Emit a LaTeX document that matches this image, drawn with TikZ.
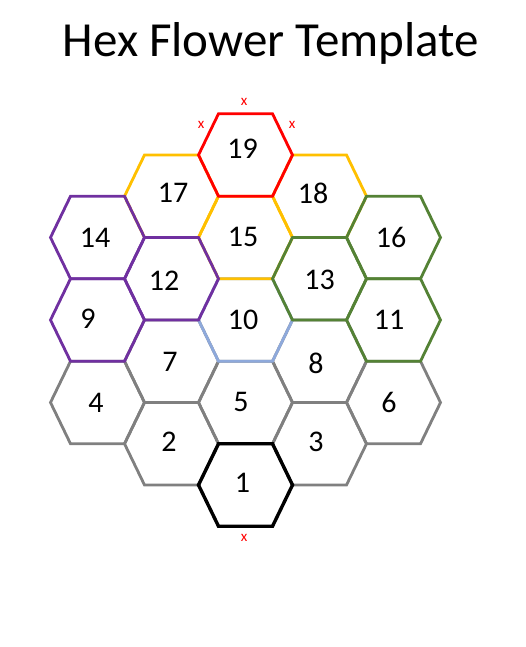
\documentclass[tikz,border=0pt]{standalone}
\usepackage{fontspec}
\setmainfont{Carlito}
\definecolor{hgrey}{HTML}{808080}
\definecolor{hblue}{HTML}{8EA9DB}
\definecolor{hyellow}{HTML}{FFC000}
\definecolor{hpurple}{HTML}{7030A0}
\definecolor{hgreen}{HTML}{548235}
\definecolor{hred}{HTML}{FF0000}
\newcommand\hexcell[3]{\draw[#3] ({#1-47},#2) -- ({#1-27},{#2-41.25}) -- ({#1+27},{#2-41.25}) -- ({#1+47},#2) -- ({#1+27},{#2+41.25}) -- ({#1-27},{#2+41.25}) -- cycle;}
\tikzset{
  hexline/.style={line width=2.8pt},
  greyhex/.style={hexline, draw=hgrey},
  bluehex/.style={hexline, draw=hblue},
  yellowhex/.style={hexline, draw=hyellow},
  purplehex/.style={hexline, draw=hpurple},
  greenhex/.style={hexline, draw=hgreen},
  redhex/.style={hexline, draw=hred},
  blackhex/.style={line width=3.4pt, draw=black},
  num/.style={inner sep=0pt, font=\fontsize{30}{32}\selectfont},
  xmark/.style={inner sep=0pt, text=hred, font=\fontsize{15}{16}\selectfont},
  title/.style={inner sep=0pt, anchor=base, font=\fontsize{49}{52}\selectfont}
}
\begin{document}
\begin{tikzpicture}[x=1pt,y=-1pt]
\useasboundingbox (0,0) rectangle (525,647);
\fill[white] (0,0) rectangle (525,647);
\node[title] (title) at (271,57) {Hex Flower Template};
% grey
\hexcell{171.5}{361.25}{greyhex}
\hexcell{319.5}{361.25}{greyhex}
\hexcell{97.5}{402.5}{greyhex}
\hexcell{245.5}{402.5}{greyhex}
\hexcell{393.5}{402.5}{greyhex}
\hexcell{171.5}{443.75}{greyhex}
\hexcell{319.5}{443.75}{greyhex}
% blue
\hexcell{245.5}{320}{bluehex}
% yellow
\hexcell{171.5}{196.25}{yellowhex}
\hexcell{319.5}{196.25}{yellowhex}
\hexcell{245.5}{237.5}{yellowhex}
% purple
\hexcell{97.5}{237.5}{purplehex}
\hexcell{171.5}{278.75}{purplehex}
\hexcell{97.5}{320}{purplehex}
% green
\hexcell{393.5}{237.5}{greenhex}
\hexcell{319.5}{278.75}{greenhex}
\hexcell{393.5}{320}{greenhex}
% red
\hexcell{245.5}{155}{redhex}
% black
\hexcell{245.5}{485}{blackhex}
% labels
\node[num] (n19) at (242.5,149) {19};
\node[num] (n17) at (173,193) {17};
\node[num] (n18) at (313,193) {18};
\node[num] (n14) at (95,237.5) {14};
\node[num] (n15) at (243,237) {15};
\node[num] (n16) at (391,237.5) {16};
\node[num] (n12) at (164,281) {12};
\node[num] (n13) at (319.5,280) {13};
\node[num] (n9) at (88,319) {9};
\node[num] (n10) at (243,320) {10};
\node[num] (n11) at (389,320) {11};
\node[num] (n7) at (170,362) {7};
\node[num] (n8) at (316,363) {8};
\node[num] (n4) at (96,402.5) {4};
\node[num] (n5) at (241,402) {5};
\node[num] (n6) at (389,402.5) {6};
\node[num] (n2) at (169,441.7) {2};
\node[num] (n3) at (316,441.7) {3};
\node[num] (n1) at (242.5,483) {1};
% x marks
\node[xmark] (xt) at (244,102) {x};
\node[xmark] (xl) at (201,125) {x};
\node[xmark] (xr) at (292,125) {x};
\node[xmark] (xb) at (244,538) {x};
\end{tikzpicture}
\end{document}
